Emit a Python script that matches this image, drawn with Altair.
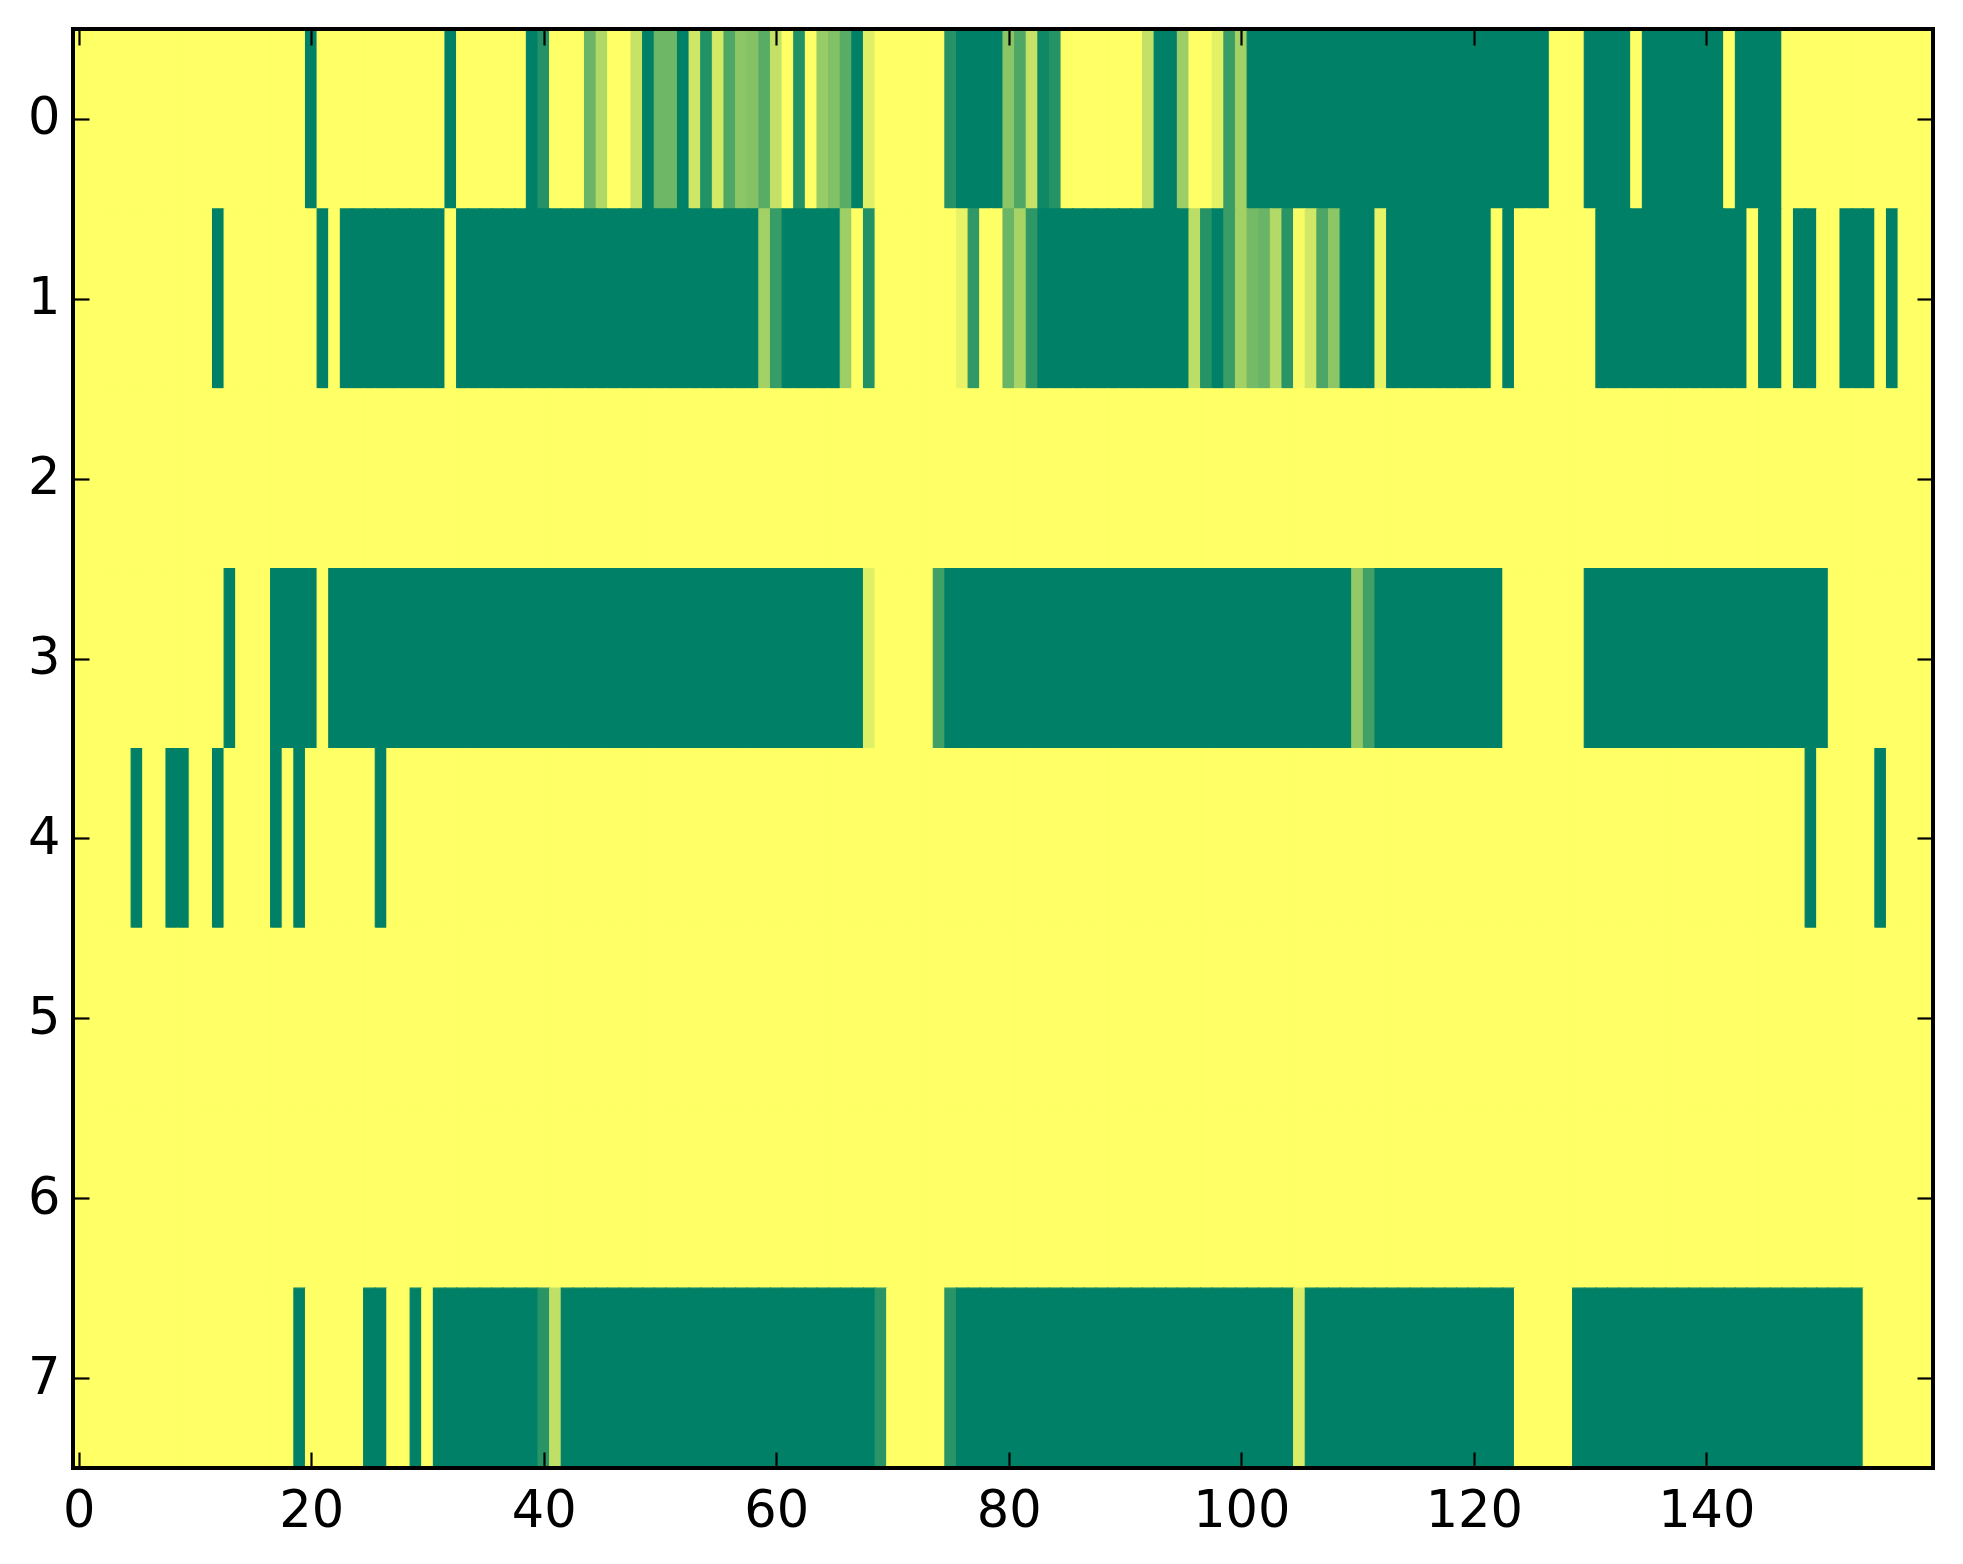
import pandas as pd
import altair as alt

# one list per image row, 160 cells each (0 = yellow, 1 = dark green)
ROW_0 = [
    0, 0, 0, 0, 0, 0, 0, 0, 0, 0, 0, 0, 0, 0, 0, 0, 0, 0, 0, 0,
    1, 0, 0, 0, 0, 0, 0, 0, 0, 0, 0, 0, 1, 0, 0, 0, 0, 0, 0, 1,
    0.86, 0, 0, 0, 0.58, 0.31, 0, 0, 0.22, 1, 0.57, 0.57, 1, 0.19, 0.87, 0.17, 0.69, 0.45, 0.48, 0.65,
    0.24, 0, 0.87, 0, 0.40, 0.49, 0.65, 1, 0.12, 0, 0, 0, 0, 0, 0, 0.85, 1, 1, 1, 1,
    0.46, 0.69, 0.22, 0.94, 0.85, 0, 0, 0, 0, 0, 0, 0, 0.24, 1, 1, 0.39, 0, 0, 0.11, 0.77,
    0.36, 1, 1, 1, 1, 1, 1, 1, 1, 1, 1, 1, 1, 1, 1, 1, 1, 1, 1, 1,
    1, 1, 1, 1, 1, 1, 1, 0, 0, 0, 1, 1, 1, 1, 0, 1, 1, 1, 1, 1,
    1, 1, 0, 1, 1, 1, 1, 0, 0, 0, 0, 0, 0, 0, 0, 0, 0, 0, 0, 0,
]
ROW_1 = [
    0, 0, 0, 0, 0, 0, 0, 0, 0, 0, 0, 0, 1, 0, 0, 0, 0, 0, 0, 0,
    0, 1, 0, 1, 1, 1, 1, 1, 1, 1, 1, 1, 0, 1, 1, 1, 1, 1, 1, 1,
    1, 1, 1, 1, 1, 1, 1, 1, 1, 1, 1, 1, 1, 1, 1, 1, 1, 1, 1, 0.36,
    0.78, 1, 1, 1, 1, 1, 0.38, 0, 0.87, 0, 0, 0, 0, 0, 0, 0, 0.09, 0.81, 0, 0,
    0.58, 0.34, 0.82, 1, 1, 1, 1, 1, 1, 1, 1, 1, 1, 1, 1, 1, 0.26, 0.85, 1, 0.77,
    0.36, 0.54, 0.59, 0.30, 0.84, 0.03, 0.18, 0.70, 0.45, 1, 1, 1, 0.09, 1, 1, 1, 1, 1, 1, 1,
    1, 1, 0, 1, 0, 0, 0, 0, 0, 0, 0, 1, 1, 1, 1, 1, 1, 1, 1, 1,
    1, 1, 1, 1, 0, 1, 1, 0, 1, 1, 0, 0, 1, 1, 1, 0, 1, 0, 0, 0,
]
ROW_2 = [
    0, 0, 0, 0, 0, 0, 0, 0, 0, 0, 0, 0, 0, 0, 0, 0, 0, 0, 0, 0,
    0, 0, 0, 0, 0, 0, 0, 0, 0, 0, 0, 0, 0, 0, 0, 0, 0, 0, 0, 0,
    0, 0, 0, 0, 0, 0, 0, 0, 0, 0, 0, 0, 0, 0, 0, 0, 0, 0, 0, 0,
    0, 0, 0, 0, 0, 0, 0, 0, 0, 0, 0, 0, 0, 0, 0, 0, 0, 0, 0, 0,
    0, 0, 0, 0, 0, 0, 0, 0, 0, 0, 0, 0, 0, 0, 0, 0, 0, 0, 0, 0,
    0, 0, 0, 0, 0, 0, 0, 0, 0, 0, 0, 0, 0, 0, 0, 0, 0, 0, 0, 0,
    0, 0, 0, 0, 0, 0, 0, 0, 0, 0, 0, 0, 0, 0, 0, 0, 0, 0, 0, 0,
    0, 0, 0, 0, 0, 0, 0, 0, 0, 0, 0, 0, 0, 0, 0, 0, 0, 0, 0, 0,
]
ROW_3 = [
    0, 0, 0, 0, 0, 0, 0, 0, 0, 0, 0, 0, 0, 1, 0, 0, 0, 1, 1, 1,
    1, 0, 1, 1, 1, 1, 1, 1, 1, 1, 1, 1, 1, 1, 1, 1, 1, 1, 1, 1,
    1, 1, 1, 1, 1, 1, 1, 1, 1, 1, 1, 1, 1, 1, 1, 1, 1, 1, 1, 1,
    1, 1, 1, 1, 1, 1, 1, 1, 0.12, 0, 0, 0, 0, 0, 0.75, 1, 1, 1, 1, 1,
    1, 1, 1, 1, 1, 1, 1, 1, 1, 1, 1, 1, 1, 1, 1, 1, 1, 1, 1, 1,
    1, 1, 1, 1, 1, 1, 1, 1, 1, 1, 0.42, 0.75, 1, 1, 1, 1, 1, 1, 1, 1,
    1, 1, 1, 0, 0, 0, 0, 0, 0, 0, 1, 1, 1, 1, 1, 1, 1, 1, 1, 1,
    1, 1, 1, 1, 1, 1, 1, 1, 1, 1, 1, 0, 0, 0, 0, 0, 0, 0, 0, 0,
]
ROW_4 = [
    0, 0, 0, 0, 0, 1, 0, 0, 1, 1, 0, 0, 1, 0, 0, 0, 0, 1, 0, 1,
    0, 0, 0, 0, 0, 0, 1, 0, 0, 0, 0, 0, 0, 0, 0, 0, 0, 0, 0, 0,
    0, 0, 0, 0, 0, 0, 0, 0, 0, 0, 0, 0, 0, 0, 0, 0, 0, 0, 0, 0,
    0, 0, 0, 0, 0, 0, 0, 0, 0, 0, 0, 0, 0, 0, 0, 0, 0, 0, 0, 0,
    0, 0, 0, 0, 0, 0, 0, 0, 0, 0, 0, 0, 0, 0, 0, 0, 0, 0, 0, 0,
    0, 0, 0, 0, 0, 0, 0, 0, 0, 0, 0, 0, 0, 0, 0, 0, 0, 0, 0, 0,
    0, 0, 0, 0, 0, 0, 0, 0, 0, 0, 0, 0, 0, 0, 0, 0, 0, 0, 0, 0,
    0, 0, 0, 0, 0, 0, 0, 0, 0, 1, 0, 0, 0, 0, 0, 1, 0, 0, 0, 0,
]
ROW_5 = [
    0, 0, 0, 0, 0, 0, 0, 0, 0, 0, 0, 0, 0, 0, 0, 0, 0, 0, 0, 0,
    0, 0, 0, 0, 0, 0, 0, 0, 0, 0, 0, 0, 0, 0, 0, 0, 0, 0, 0, 0,
    0, 0, 0, 0, 0, 0, 0, 0, 0, 0, 0, 0, 0, 0, 0, 0, 0, 0, 0, 0,
    0, 0, 0, 0, 0, 0, 0, 0, 0, 0, 0, 0, 0, 0, 0, 0, 0, 0, 0, 0,
    0, 0, 0, 0, 0, 0, 0, 0, 0, 0, 0, 0, 0, 0, 0, 0, 0, 0, 0, 0,
    0, 0, 0, 0, 0, 0, 0, 0, 0, 0, 0, 0, 0, 0, 0, 0, 0, 0, 0, 0,
    0, 0, 0, 0, 0, 0, 0, 0, 0, 0, 0, 0, 0, 0, 0, 0, 0, 0, 0, 0,
    0, 0, 0, 0, 0, 0, 0, 0, 0, 0, 0, 0, 0, 0, 0, 0, 0, 0, 0, 0,
]
ROW_6 = [
    0, 0, 0, 0, 0, 0, 0, 0, 0, 0, 0, 0, 0, 0, 0, 0, 0, 0, 0, 0,
    0, 0, 0, 0, 0, 0, 0, 0, 0, 0, 0, 0, 0, 0, 0, 0, 0, 0, 0, 0,
    0, 0, 0, 0, 0, 0, 0, 0, 0, 0, 0, 0, 0, 0, 0, 0, 0, 0, 0, 0,
    0, 0, 0, 0, 0, 0, 0, 0, 0, 0, 0, 0, 0, 0, 0, 0, 0, 0, 0, 0,
    0, 0, 0, 0, 0, 0, 0, 0, 0, 0, 0, 0, 0, 0, 0, 0, 0, 0, 0, 0,
    0, 0, 0, 0, 0, 0, 0, 0, 0, 0, 0, 0, 0, 0, 0, 0, 0, 0, 0, 0,
    0, 0, 0, 0, 0, 0, 0, 0, 0, 0, 0, 0, 0, 0, 0, 0, 0, 0, 0, 0,
    0, 0, 0, 0, 0, 0, 0, 0, 0, 0, 0, 0, 0, 0, 0, 0, 0, 0, 0, 0,
]
ROW_7 = [
    0, 0, 0, 0, 0, 0, 0, 0, 0, 0, 0, 0, 0, 0, 0, 0, 0, 0, 0, 1,
    0, 0, 0, 0, 0, 1, 1, 0, 0, 1, 0, 1, 1, 1, 1, 1, 1, 1, 1, 1,
    0.84, 0.25, 1, 1, 1, 1, 1, 1, 1, 1, 1, 1, 1, 1, 1, 1, 1, 1, 1, 1,
    1, 1, 1, 1, 1, 1, 1, 1, 1, 0.84, 0, 0, 0, 0, 0, 0.84, 1, 1, 1, 1,
    1, 1, 1, 1, 1, 1, 1, 1, 1, 1, 1, 1, 1, 1, 1, 1, 1, 1, 1, 1,
    1, 1, 1, 1, 1, 0.14, 1, 1, 1, 1, 1, 1, 1, 1, 1, 1, 1, 1, 1, 1,
    1, 1, 1, 1, 0, 0, 0, 0, 0, 1, 1, 1, 1, 1, 1, 1, 1, 1, 1, 1,
    1, 1, 1, 1, 1, 1, 1, 1, 1, 1, 1, 1, 1, 1, 0, 0, 0, 0, 0, 0,
]
ROWS = [ROW_0, ROW_1, ROW_2, ROW_3, ROW_4, ROW_5, ROW_6, ROW_7]

X_TICKS = [0, 20, 40, 60, 80, 100, 120, 140]
Y_TICKS = [0, 1, 2, 3, 4, 5, 6, 7]
X_LIM = [-0.5, 159.5]
Y_LIM = [-0.5, 7.5]

# matplotlib "summer_r": yellow at 0, green at 1
CMAP = ["#ffff66", "#008066"]
FONT = "DejaVu Sans"
TICK = 16


def build_frame() -> pd.DataFrame:
    recs = []
    for r, row in enumerate(ROWS):
        for c, v in enumerate(row):
            recs.append({"x0": c - 0.5, "x1": c + 0.5, "y0": r - 0.5, "y1": r + 0.5, "v": v})
    return pd.DataFrame(recs)


def make_axis(orient: str, values: list, labels: bool) -> alt.Axis:
    pad = 18 if orient == "bottom" else 13
    return alt.Axis(
        orient=orient, values=values, labels=labels, title=None,
        domain=False, grid=False, ticks=True,
        tickSize=TICK, tickWidth=2.2, tickColor="black", offset=-TICK,
        labelFont=FONT, labelFontSize=51, labelColor="black",
        labelPadding=pad, labelFlush=False, labelOverlap=False, zindex=1,
    )


df = build_frame()
box = pd.DataFrame({"x0": [X_LIM[0]], "x1": [X_LIM[1]], "y0": [Y_LIM[0]], "y1": [Y_LIM[1]]})

xs = alt.Scale(domain=X_LIM, nice=False, zero=False)
ys = alt.Scale(domain=Y_LIM, nice=False, zero=False, reverse=True)
cs = alt.Scale(domain=[0, 1], range=CMAP, interpolate="rgb")

heat = alt.Chart(df).mark_rect(strokeWidth=1.1).encode(
    x=alt.X("x0:Q", scale=xs, axis=make_axis("bottom", X_TICKS, True)),
    x2="x1:Q",
    y=alt.Y("y0:Q", scale=ys, axis=make_axis("left", Y_TICKS, True)),
    y2="y1:Q",
    color=alt.Color("v:Q", scale=cs, legend=None),
    stroke=alt.Stroke("v:Q", scale=cs, legend=None),
)

# the black frame round the image; it also carries the top/right ticks
frame = alt.Chart(box).mark_rect(filled=False, stroke="black", strokeWidth=4).encode(
    x=alt.X("x0:Q", scale=xs, axis=make_axis("top", X_TICKS, False)),
    x2="x1:Q",
    y=alt.Y("y0:Q", scale=ys, axis=make_axis("right", Y_TICKS, False)),
    y2="y1:Q",
)

chart = alt.layer(heat, frame).resolve_axis(
    x="independent", y="independent"
).properties(
    width=1860, height=1439,
    background="white",
    autosize=alt.AutoSizeParams(type="none"),
    padding={"left": 65, "top": 21, "right": 20, "bottom": 80},
).configure_view(
    stroke="transparent"
)

chart.save("out.html", embed_options={"renderer": "svg", "actions": False})
